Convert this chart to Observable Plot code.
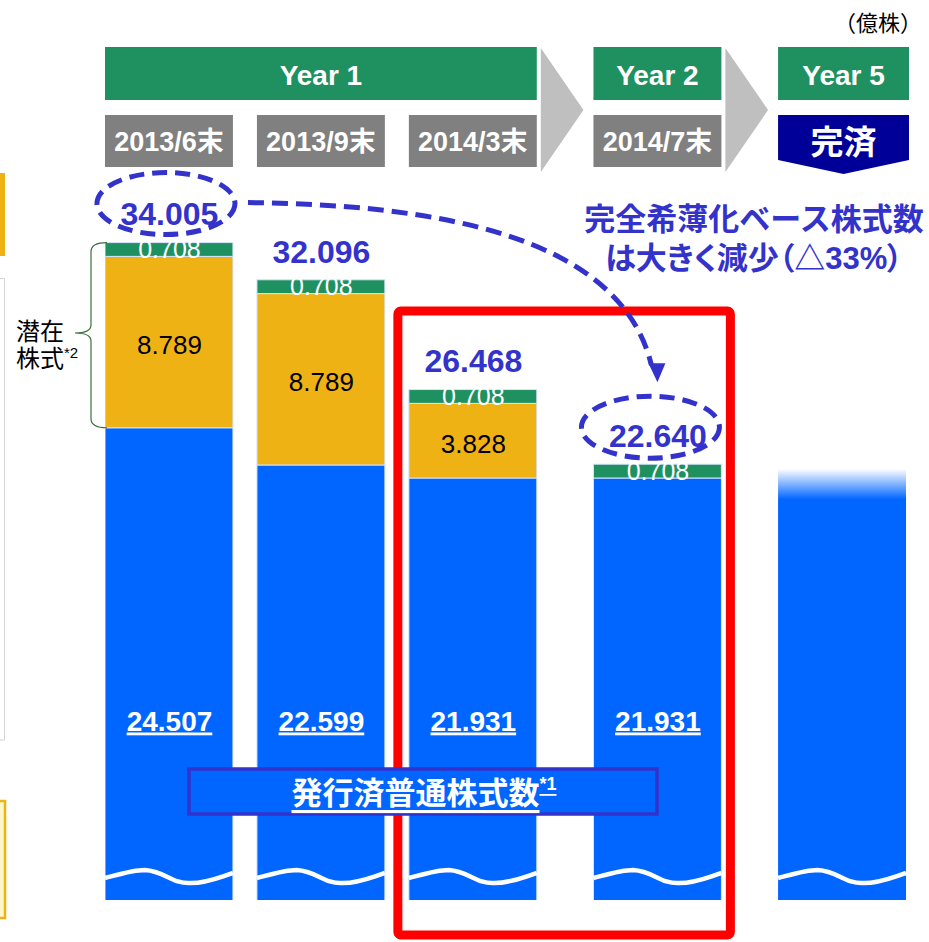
<!DOCTYPE html>
<html><head><meta charset="utf-8">
<script src="https://cdn.jsdelivr.net/npm/d3@7"></script>
<script src="https://cdn.jsdelivr.net/npm/@observablehq/plot@0.6"></script>
<style>
body{margin:0;background:#fff;}
#chart svg{display:block;}
.uline text{text-decoration:underline;}
.palt{font-feature-settings:"palt";}
</style></head><body><div id="chart"></div>
<script>
// ---- data ----
const categories = ["2013/6末", "2013/9末", "2014/3末", "2014/7末", "完済"];
const yearGroups = ["Year 1", "Year 1", "Year 1", "Year 2", "Year 5"];
const issuedShares = [24.507, 22.599, 21.931, 21.931, 22.4]; // last: faded, estimated
const potentialOrange = [8.789, 8.789, 3.828, 0, 0];
const potentialGreen = [0.708, 0.708, 0.708, 0.708, 0];
const dilutedTotals = [34.005, 32.096, 26.468, 22.640, null];
const showIssuedLabel = [true, true, true, true, false];
const unitLabel = "（億株）";
const noteLines = ["完全希薄化ベース株式数", "は大きく減少（△33%）"];
const legendLabel = "発行済普通株式数";
const braceLabel = ["潜在", "株式"];

// ---- colours / layout ----
const C = {issued: "#0066FF", orange: "#EEB215", green: "#1F9160", header: "#1F9160",
  date: "#808080", navy: "#000099", note: "#3333CC", red: "#FF0000", arrow: "#BFBFBF"};
const GAP = 0.215, HALF = 0.421;
const groups = [...new Set(yearGroups)];
const fmt = d3.format(".3f");

const rows = categories.map((c, i) => ({
  cat: c, i, group: yearGroups[i],
  pos: i + GAP * groups.indexOf(yearGroups[i]),
  total: dilutedTotals[i], issued: issuedShares[i]
}));
const segs = [];
rows.forEach((r, i) => {
  let base = 0;
  [["issued", issuedShares[i]], ["orange", potentialOrange[i]], ["green", potentialGreen[i]]]
    .forEach(([k, v]) => { if (v > 0) { segs.push({...r, key: k, value: v, y1: base, y2: base + v}); base += v; } });
});

const FONT = "'Liberation Sans','Noto Sans CJK JP',sans-serif";
const chart = Plot.plot({
  width: 929, height: 942,
  marginTop: 0, marginBottom: 42, marginLeft: 105, marginRight: 23,
  x: {type: "linear", domain: [-HALF, 4 + 2 * GAP + HALF], axis: null},
  y: {domain: [0.29, 0.29 + 900 / 19.5], axis: null},
  style: {fontFamily: FONT, background: "white"},
  marks: [
    Plot.rect(segs, {
      x1: d => d.pos - HALF, x2: d => d.pos + HALF, y1: "y1", y2: "y2",
      fill: d => d.i === 4 ? "url(#fadeTop)" : C[d.key],
      stroke: d => d.i === 4 ? "none" : "#d6e4ff", strokeWidth: 1, clip: true
    }),
    Plot.text(segs.filter(d => d.key === "green"), {
      x: "pos", y: d => (d.y1 + d.y2) / 2, text: d => fmt(d.value), fill: "white", fontSize: 25
    }),
    Plot.text(segs.filter(d => d.key === "orange"), {
      x: "pos", y: d => (d.y1 + d.y2) / 2, dy: 3, text: d => fmt(d.value), fill: "black", fontSize: 26
    }),
    Plot.text(rows.filter(d => d.total != null), {
      x: "pos", y: "total", dy: -28, text: d => fmt(d.total), fill: C.note, fontSize: 32, fontWeight: "bold"
    }),
    Plot.text(rows.filter(d => showIssuedLabel[d.i]), {
      x: "pos", frameAnchor: "bottom", dy: -170, text: d => fmt(d.issued),
      fill: "white", fontSize: 28, fontWeight: "bold", className: "uline"
    })
  ]
});
document.getElementById("chart").appendChild(chart);

// ---- decorations using the chart's scales ----
const sx = chart.scale("x"), sy = chart.scale("y");
const svg = d3.select(chart);
const defs = svg.insert("defs", ":first-child");
const grad = defs.append("linearGradient").attr("id", "fadeTop").attr("x1", 0).attr("y1", 0).attr("x2", 0).attr("y2", 1);
grad.append("stop").attr("offset", 0).attr("stop-color", "#ffffff");
grad.append("stop").attr("offset", 0.07).attr("stop-color", C.issued);
grad.append("stop").attr("offset", 1).attr("stop-color", C.issued);

const left = r => sx.apply(r.pos - HALF), right = r => sx.apply(r.pos + HALF), mid = r => sx.apply(r.pos);
const deco = svg.append("g").attr("font-family", FONT).attr("text-anchor", "start");

// unit
deco.append("text").attr("x", 922).attr("y", 23).attr("text-anchor", "end").attr("dominant-baseline", "central")
  .attr("font-size", 22).attr("fill", "#000").text(unitLabel);

// year header boxes
groups.forEach(g => {
  const rs = rows.filter(r => r.group === g);
  const x0 = left(rs[0]), x1 = right(rs[rs.length - 1]) + (g === "Year 5" ? 3 : 0);
  deco.append("rect").attr("x", x0).attr("y", 47).attr("width", x1 - x0).attr("height", 53).attr("fill", C.header);
  deco.append("text").attr("x", (x0 + x1) / 2).attr("y", 75).attr("text-anchor", "middle").attr("dominant-baseline", "central")
    .attr("font-size", 28).attr("font-weight", "bold").attr("fill", "white").text(g);
});
// group arrows
for (let k = 0; k < groups.length - 1; k++) {
  const a = rows.filter(r => r.group === groups[k]).pop();
  const b = rows.find(r => r.group === groups[k + 1]);
  const x0 = right(a) + 4, x1 = left(b) - 10;
  deco.append("polygon").attr("points", `${x0},48 ${x1},110 ${x0},172`).attr("fill", C.arrow);
}
// date boxes
rows.forEach(r => {
  const x0 = left(r), x1 = right(r);
  if (r.i < 4) {
    deco.append("rect").attr("x", x0).attr("y", 115).attr("width", x1 - x0).attr("height", 52).attr("fill", C.date);
    deco.append("text").attr("x", mid(r)).attr("y", 142).attr("text-anchor", "middle").attr("dominant-baseline", "central")
      .attr("font-size", 27).attr("font-weight", "bold").attr("fill", "white").text(r.cat);
  } else {
    const xe = x1 + 3, xc = (x0 + xe) / 2;
    deco.append("polygon").attr("points", `${x0},115 ${xe},115 ${xe},160 ${xc},174 ${x0},160`).attr("fill", C.navy);
    deco.append("text").attr("x", xc).attr("y", 142).attr("text-anchor", "middle").attr("dominant-baseline", "central")
      .attr("font-size", 33).attr("font-weight", "bold").attr("fill", "white").text(r.cat);
  }
});

// red highlight box (around 2014/3 and 2014/7)
{
  const a = rows[2], b = rows[3];
  const x0 = left(a) - 11, x1 = right(b) + 9;
  deco.append("rect").attr("x", x0).attr("y", 311).attr("width", x1 - x0).attr("height", 624)
    .attr("rx", 3).attr("fill", "none").attr("stroke", C.red).attr("stroke-width", 9);
}

// waves
rows.forEach(r => {
  const l = left(r), w = right(r) - l, y = 877;
  const p = (fx, dy) => `${l + fx * w},${y + dy}`;
  deco.append("path")
    .attr("d", `M${p(0, 1)} C${p(0.12, -3)} ${p(0.22, -7)} ${p(0.31, -7)} C${p(0.47, -6)} ${p(0.52, 7)} ${p(0.67, 6)} C${p(0.8, 6)} ${p(0.9, 0)} ${p(1, -4)}`)
    .attr("fill", "none").attr("stroke", "white").attr("stroke-width", 4.5);
});

// legend box
deco.append("rect").attr("x", 189).attr("y", 769).attr("width", 468).attr("height", 45)
  .attr("fill", C.issued).attr("stroke", C.note).attr("stroke-width", 3.5);
{
  const t = deco.append("text").attr("x", 424).attr("y", 793).attr("text-anchor", "middle").attr("dominant-baseline", "central")
    .attr("font-weight", "bold").attr("fill", "white").style("text-decoration", "underline");
  t.append("tspan").attr("font-size", 31).text(legendLabel);
  t.append("tspan").attr("font-size", 18).attr("dy", -9).text("*1");
}

// left cut-off remnants
deco.append("rect").attr("x", 0).attr("y", 173).attr("width", 5).attr("height", 83).attr("fill", C.orange);
deco.append("path").attr("d", "M0,278.5 H4.5 V740 H0").attr("fill", "none").attr("stroke", "#d4d4d4").attr("stroke-width", 1);
deco.append("rect").attr("x", -4).attr("y", 801).attr("width", 9).attr("height", 117).attr("fill", "#FFF7C8")
  .attr("stroke", C.orange).attr("stroke-width", 2.5);

// brace for potential shares
{
  const top = sy.apply(dilutedTotals[0]) , bot = sy.apply(issuedShares[0]);
  const xm = 91, xr = left(rows[0]) + 2, ym = 333;
  deco.append("path")
    .attr("d", `M${xr},${top} Q${xm},${top} ${xm},${top + 9} V${ym - 8} Q${xm},${ym} ${xm - 16},${ym} Q${xm},${ym} ${xm},${ym + 8} V${bot - 9} Q${xm},${bot} ${xr},${bot}`)
    .attr("fill", "none").attr("stroke", "#3c6e3c").attr("stroke-width", 1.2);
  deco.append("text").attr("x", 16).attr("y", 331).attr("text-anchor", "start").attr("dominant-baseline", "central")
    .attr("font-size", 24).attr("fill", "#000").text(braceLabel[0]);
  const t2 = deco.append("text").attr("x", 16).attr("y", 358).attr("text-anchor", "start").attr("dominant-baseline", "central").attr("fill", "#000");
  t2.append("tspan").attr("font-size", 24).text(braceLabel[1]);
  t2.append("tspan").attr("font-size", 15).attr("dy", -6).text("*2");
}

// dashed ellipses around the two diluted totals
const e1 = {cx: mid(rows[0]) - 3, cy: sy.apply(dilutedTotals[0]) - 28 - 11, rx: 69, ry: 31};
const e2 = {cx: mid(rows[3]) - 7, cy: sy.apply(dilutedTotals[3]) - 28 - 9, rx: 69, ry: 31};
[e1, e2].forEach(e => deco.append("ellipse").attr("cx", e.cx).attr("cy", e.cy).attr("rx", e.rx).attr("ry", e.ry)
  .attr("fill", "none").attr("stroke", C.note).attr("stroke-width", 5).attr("stroke-dasharray", "15 8"));

// dashed curved arrow
{
  const s = {x: e1.cx + e1.rx + 13, y: e1.cy - 1};
  const tip = {x: e2.cx + 7, y: e2.cy - e2.ry - 14};
  deco.append("path")
    .attr("d", `M${s.x},${s.y} C${s.x + 180},${s.y + 2} ${tip.x - 38},${s.y + 30} ${tip.x - 6},${tip.y - 17}`)
    .attr("fill", "none").attr("stroke", C.note).attr("stroke-width", 5).attr("stroke-dasharray", "16 8");
  deco.append("polygon").attr("points", `${tip.x - 9},${tip.y - 19} ${tip.x + 8},${tip.y - 19} ${tip.x},${tip.y}`).attr("fill", C.note);
}

// annotation text
noteLines.forEach((line, k) => {
  deco.append("text").attr("class", k === 1 ? "palt" : null)
    .attr("x", 754).attr("y", 219 + k * 39).attr("text-anchor", "middle").attr("dominant-baseline", "central")
    .attr("font-size", 31).attr("font-weight", "bold").attr("fill", C.note).text(line);
});
</script>
</body></html>
